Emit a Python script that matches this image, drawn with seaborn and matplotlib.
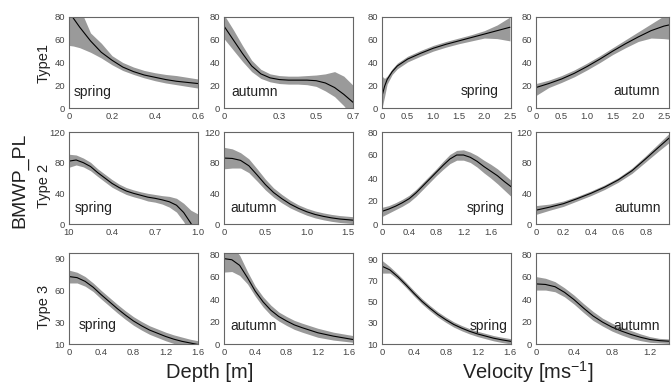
import numpy as np
import pandas as pd
import matplotlib
matplotlib.use("Agg")
import matplotlib.pyplot as plt
import seaborn as sns

sns.set_theme(style="white")
plt.rcParams['font.family'] = ['Liberation Sans', 'DejaVu Sans']
plt.rcParams['mathtext.fontset'] = 'custom'
plt.rcParams['mathtext.rm'] = 'Liberation Sans'
plt.rcParams['mathtext.it'] = 'Liberation Sans'

# ---------------- data ----------------
# Row 1: Type1
t1_spr_depth_x = [0, 0.02, 0.05, 0.1, 0.15, 0.2, 0.25, 0.3, 0.35, 0.4, 0.45, 0.5, 0.55, 0.6]
t1_spr_depth_m = [85, 79, 71, 59, 49, 42, 36, 32, 29, 27, 25, 23.5, 22.5, 21.5]
t1_spr_depth_u = [110, 100, 88, 66, 57, 46, 40, 36, 33, 31, 29.5, 28.5, 27, 25.5]
t1_spr_depth_l = [55, 54.5, 53, 49, 44, 38, 33, 29.5, 26.5, 24, 22, 20.5, 19, 17.5]

t1_aut_depth_x = [0, 0.05, 0.1, 0.15, 0.2, 0.25, 0.3, 0.35, 0.4, 0.45, 0.5, 0.55, 0.6, 0.65, 0.7]
t1_aut_depth_m = [72, 60, 48, 37, 30, 26.5, 25, 24.5, 24.5, 24.5, 24, 22, 18, 12, 5]
t1_aut_depth_u = [82, 69, 55, 42, 34, 30, 28.5, 28, 28, 28.5, 29, 30, 32, 28, 20]
t1_aut_depth_l = [61, 51, 41, 32, 26, 23, 21.5, 21, 21, 20.5, 19, 15, 10, 2, -8]

t1_spr_vel_x = [0, 0.05, 0.1, 0.2, 0.3, 0.5, 0.75, 1.0, 1.25, 1.5, 1.75, 2.0, 2.25, 2.5]
t1_spr_vel_m = [10.5, 19, 25, 32, 37, 43, 48, 52.5, 56, 59, 62, 65, 68, 71]
t1_spr_vel_u = [28, 26, 28, 34.5, 39.5, 45.5, 50.5, 55, 58.5, 61.5, 64.5, 68, 73, 80]
t1_spr_vel_l = [0, 10, 21, 29.5, 34.5, 40.5, 45.5, 50, 53.5, 56.5, 59, 61.5, 61, 59]

t1_aut_vel_x = [0, 0.25, 0.5, 0.75, 1.0, 1.25, 1.5, 1.75, 2.0, 2.25, 2.5, 2.6]
t1_aut_vel_m = [18, 21.5, 25.5, 30.5, 36.5, 43, 50, 56.5, 62.5, 68, 72, 73]
t1_aut_vel_u = [21.5, 24.5, 28.5, 33.5, 39.5, 46, 53, 60, 67, 74, 81, 84]
t1_aut_vel_l = [11, 18, 22.5, 27.5, 33.5, 40, 47, 53, 58.5, 61.5, 61, 60.5]

# Row 2: Type 2
t2_spr_depth_x = [0.1, 0.15, 0.2, 0.25, 0.3, 0.35, 0.4, 0.45, 0.5, 0.55, 0.6, 0.65, 0.7, 0.75, 0.8, 0.85, 0.9, 0.95, 1.0]
t2_spr_depth_m = [82, 83.5, 80, 75, 67, 60, 53, 47.5, 43, 40, 37.5, 35, 33.5, 31.5, 29, 24.5, 15, 1, -15]
t2_spr_depth_u = [91, 90, 86, 80.5, 72, 65, 58, 52, 47.5, 44.5, 42, 40, 38.5, 37, 36, 33.5, 27, 18, 13]
t2_spr_depth_l = [74, 77, 74.5, 69.5, 62, 55, 48, 43, 38.5, 35.5, 33, 30, 28.5, 26, 22, 15.5, 3, -15, -40]

t2_aut_depth_x = [0, 0.1, 0.2, 0.3, 0.4, 0.5, 0.6, 0.7, 0.8, 0.9, 1.0, 1.1, 1.2, 1.3, 1.4, 1.56]
t2_aut_depth_m = [86, 85.5, 83, 76, 64, 51.5, 41, 33, 26, 20.5, 16, 12.5, 10, 8, 6.5, 5]
t2_aut_depth_u = [100, 98, 93, 85, 72, 58.5, 47, 38.5, 31, 25, 20.5, 17, 14.5, 12.5, 11, 9.5]
t2_aut_depth_l = [72, 73, 73, 67, 56, 44.5, 35, 27.5, 21, 16, 11.5, 8, 5.5, 3.5, 2, 0.5]

t2_spr_vel_x = [0, 0.1, 0.2, 0.3, 0.4, 0.5, 0.6, 0.7, 0.8, 0.9, 1.0, 1.1, 1.2, 1.3, 1.4, 1.5, 1.6, 1.7, 1.8, 1.9]
t2_spr_vel_m = [11, 13, 15.5, 18.5, 22, 27, 33, 39, 45, 51, 56.5, 60, 60, 58, 54.5, 50, 46, 42, 37, 32.5]
t2_spr_vel_u = [14.5, 16, 18.5, 21.5, 25, 30, 36, 42, 48, 54.5, 60.5, 64, 64.5, 62.5, 59.5, 55.5, 52, 48, 43, 38]
t2_spr_vel_l = [6.5, 9.5, 12.5, 15.5, 19, 24, 30, 36, 42, 47.5, 52.5, 55.5, 55.5, 53.5, 49.5, 44.5, 40, 35, 29.5, 24]

t2_aut_vel_x = [0, 0.1, 0.2, 0.3, 0.4, 0.5, 0.6, 0.7, 0.8, 0.9, 0.97]
t2_aut_vel_m = [18, 22, 26.5, 33, 40, 48, 57.5, 69.5, 85, 101, 112]
t2_aut_vel_u = [24, 26, 30, 36, 43, 51, 60.5, 73, 89, 106, 118]
t2_aut_vel_l = [12.5, 18, 23, 30, 37, 45, 54.5, 66, 81, 96, 106]

# Row 3: Type 3
t3_spr_depth_x = [0, 0.1, 0.2, 0.3, 0.4, 0.5, 0.6, 0.7, 0.8, 0.9, 1.0, 1.1, 1.2, 1.3, 1.4, 1.5, 1.6]
t3_spr_depth_m = [73, 72, 68.5, 63, 56, 49.5, 43, 37, 31.5, 27, 23, 20, 17, 14.5, 12.5, 11, 9.5]
t3_spr_depth_u = [79, 77, 73, 67, 60, 53.5, 47, 41, 35.5, 31, 27, 24, 21, 18.5, 16.5, 14.5, 13]
t3_spr_depth_l = [67, 67, 64, 59, 52, 45.5, 39, 33, 27.5, 23, 19, 16, 13, 10.5, 8.5, 7, 6]

t3_aut_depth_x = [0, 0.1, 0.2, 0.3, 0.4, 0.5, 0.6, 0.7, 0.8, 0.9, 1.0, 1.2, 1.4, 1.65]
t3_aut_depth_m = [76, 75, 70, 59, 47, 37.5, 30, 24.5, 20.5, 17, 14.5, 10, 7, 4]
t3_aut_depth_u = [88, 87, 79, 64.5, 51.5, 42, 34.5, 28.5, 24.5, 21, 18.5, 14, 10.5, 7.5]
t3_aut_depth_l = [64, 64.5, 61, 53.5, 42.5, 33, 25.5, 20.5, 16.5, 13, 10.5, 6, 3.5, 1.5]

t3_spr_vel_x = [0, 0.1, 0.2, 0.3, 0.4, 0.5, 0.6, 0.7, 0.8, 0.9, 1.0, 1.1, 1.2, 1.3, 1.4, 1.5, 1.62]
t3_spr_vel_m = [83.5, 80, 73.5, 66, 58, 50.5, 44, 38, 33, 28.5, 25, 22, 19.5, 17.5, 15.5, 14, 12.5]
t3_spr_vel_u = [89, 83, 76, 68.5, 60.5, 53, 46.5, 40.5, 35.5, 31, 27.5, 24.5, 22, 20, 18, 16.5, 15]
t3_spr_vel_l = [77, 77, 71, 63.5, 55.5, 48, 41.5, 35.5, 30.5, 26, 22.5, 19.5, 17, 15, 13, 11.5, 10]

t3_aut_vel_x = [0, 0.1, 0.2, 0.3, 0.4, 0.5, 0.6, 0.7, 0.8, 0.9, 1.0, 1.1, 1.2, 1.3, 1.4]
t3_aut_vel_m = [53.5, 53, 51, 46, 39.5, 32, 25, 19.5, 15, 11.5, 8.5, 6, 4, 3, 2.5]
t3_aut_vel_u = [60, 58.5, 55.5, 50, 43.5, 36, 29, 23, 18.5, 15, 12, 9, 6.5, 5, 4.5]
t3_aut_vel_l = [48, 48, 46.5, 42, 35.5, 28, 21, 16, 11.5, 8, 5, 3, 1.5, 1, 0.5]

# tick labels
xt_00 = [0, 0.2, 0.4, 0.6];            xl_00 = ["0", "0.2", "0.4", "0.6"]
xt_01 = [0, 0.3, 0.5, 0.7];            xl_01 = ["0", "0.3", "0.5", "0.7"]
xt_02 = [0, 0.5, 1.0, 1.5, 2.0, 2.5];  xl_02 = ["0", "0.5", "1.0", "1.5", "2.0", "2.5"]
xt_10 = [0.1, 0.4, 0.7, 1.0];          xl_10 = ["10", "0.4", "0.7", "1.0"]
xt_11 = [0, 0.5, 1.0, 1.5];            xl_11 = ["0", "0.5", "1.0", "1.5"]
xt_12 = [0, 0.4, 0.8, 1.2, 1.6];       xl_12 = ["0", "0.4", "0.8", "1.2", "1.6"]
xt_13 = [0, 0.2, 0.4, 0.6, 0.8];       xl_13 = ["0", "0.2", "0.4", "0.6", "0.8"]
xt_23 = [0, 0.4, 0.8, 1.2];            xl_23 = ["0", "0.4", "0.8", "1.2"]
yt_80 = [0, 20, 40, 60, 80]
yt_120 = [0, 40, 80, 120]
yt_t3s = [10, 30, 60, 90]
yt_t3v = [10, 30, 50, 70, 90]

season_labels = ["spring", "autumn", "spring", "autumn"]
row_labels = ["Type1", "Type 2", "Type 3"]

# ---------------- layout ----------------
W, H = 672, 384
fig = plt.figure(figsize=(W / 100, H / 100), dpi=100)
col_px = [(69, 129), (224, 129), (382, 129), (536, 133)]
row_px = [(17, 108), (132, 224), (253, 344)]

panels = [
    (0, 0, t1_spr_depth_x, t1_spr_depth_m, t1_spr_depth_u, t1_spr_depth_l, (0, 0.6), (0, 80), xt_00, xl_00, yt_80),
    (0, 1, t1_aut_depth_x, t1_aut_depth_m, t1_aut_depth_u, t1_aut_depth_l, (0, 0.7), (0, 80), xt_01, xl_01, yt_80),
    (0, 2, t1_spr_vel_x, t1_spr_vel_m, t1_spr_vel_u, t1_spr_vel_l, (0, 2.52), (0, 80), xt_02, xl_02, yt_80),
    (0, 3, t1_aut_vel_x, t1_aut_vel_m, t1_aut_vel_u, t1_aut_vel_l, (0, 2.6), (0, 80), xt_02, xl_02, yt_80),
    (1, 0, t2_spr_depth_x, t2_spr_depth_m, t2_spr_depth_u, t2_spr_depth_l, (0.1, 1.0), (0, 120), xt_10, xl_10, yt_120),
    (1, 1, t2_aut_depth_x, t2_aut_depth_m, t2_aut_depth_u, t2_aut_depth_l, (0, 1.56), (0, 120), xt_11, xl_11, yt_120),
    (1, 2, t2_spr_vel_x, t2_spr_vel_m, t2_spr_vel_u, t2_spr_vel_l, (0, 1.9), (0, 80), xt_12, xl_12, yt_80),
    (1, 3, t2_aut_vel_x, t2_aut_vel_m, t2_aut_vel_u, t2_aut_vel_l, (0, 0.97), (0, 120), xt_13, xl_13, yt_120),
    (2, 0, t3_spr_depth_x, t3_spr_depth_m, t3_spr_depth_u, t3_spr_depth_l, (0, 1.6), (10, 95), xt_12, xl_12, yt_t3s),
    (2, 1, t3_aut_depth_x, t3_aut_depth_m, t3_aut_depth_u, t3_aut_depth_l, (0, 1.65), (0, 81), xt_12, xl_12, yt_80),
    (2, 2, t3_spr_vel_x, t3_spr_vel_m, t3_spr_vel_u, t3_spr_vel_l, (0, 1.62), (10, 96), xt_12, xl_12, yt_t3v),
    (2, 3, t3_aut_vel_x, t3_aut_vel_m, t3_aut_vel_u, t3_aut_vel_l, (0, 1.4), (0, 81), xt_23, xl_23, yt_80),
]

label_pos = {
    (0, 0): (0.04, 0.13, 'left'), (0, 1): (0.06, 0.13, 'left'),
    (0, 2): (0.90, 0.14, 'right'), (0, 3): (0.93, 0.14, 'right'),
    (1, 0): (0.047, 0.13, 'left'), (1, 1): (0.05, 0.13, 'left'),
    (1, 2): (0.95, 0.13, 'right'), (1, 3): (0.94, 0.13, 'right'),
    (2, 0): (0.078, 0.17, 'left'), (2, 1): (0.05, 0.15, 'left'),
    (2, 2): (0.975, 0.15, 'right'), (2, 3): (0.935, 0.15, 'right'),
}

for (r, c, x, m, u, l, xlim, ylim, xt, xl, yt) in panels:
    left, width = col_px[c]
    top, bottom = row_px[r]
    ax = fig.add_axes([left / W, 1 - bottom / H, width / W, (bottom - top) / H])
    ax.fill_between(x, l, u, color="#9a9a9a", linewidth=0, zorder=1)
    df = pd.DataFrame({"x": x, "y": m})
    sns.lineplot(data=df, x="x", y="y", ax=ax, color="black", linewidth=0.8,
                 zorder=2, sort=False)
    ax.set_xlim(*xlim)
    ax.set_ylim(*ylim)
    ax.set_xticks(xt)
    ax.set_xticklabels(xl)
    ax.set_yticks(yt)
    ax.set_xlabel("")
    ax.set_ylabel("")
    ax.tick_params(axis="both", length=0, labelsize=6.8, labelcolor="#444444", pad=3)
    for s in ax.spines.values():
        s.set_color("#666666")
        s.set_linewidth(0.8)
    ax.set_facecolor("white")
    lx, ly, ha = label_pos[(r, c)]
    ax.text(lx, ly, season_labels[c], transform=ax.transAxes, ha=ha, va="baseline",
            fontsize=10, color="#222222")

# row labels
row_label_y = [63, 186, 307]
for i, lab in enumerate(row_labels):
    fig.text(44 / W, 1 - row_label_y[i] / H, lab, rotation=90, ha="center", va="center",
             fontsize=10.5, color="#222222")

fig.text(20 / W, 1 - 180 / H, "BMWP_PL", rotation=90, ha="center", va="center",
         fontsize=14, color="#222222")
fig.text(210 / W, 1 - 372 / H, "Depth [m]", ha="center", va="center",
         fontsize=14.5, color="#222222")
fig.text(528 / W, 1 - 372 / H, "Velocity [ms$^{-1}$]", ha="center", va="center",
         fontsize=14.5, color="#222222")

fig.savefig("out.png", dpi=100, facecolor="white")
